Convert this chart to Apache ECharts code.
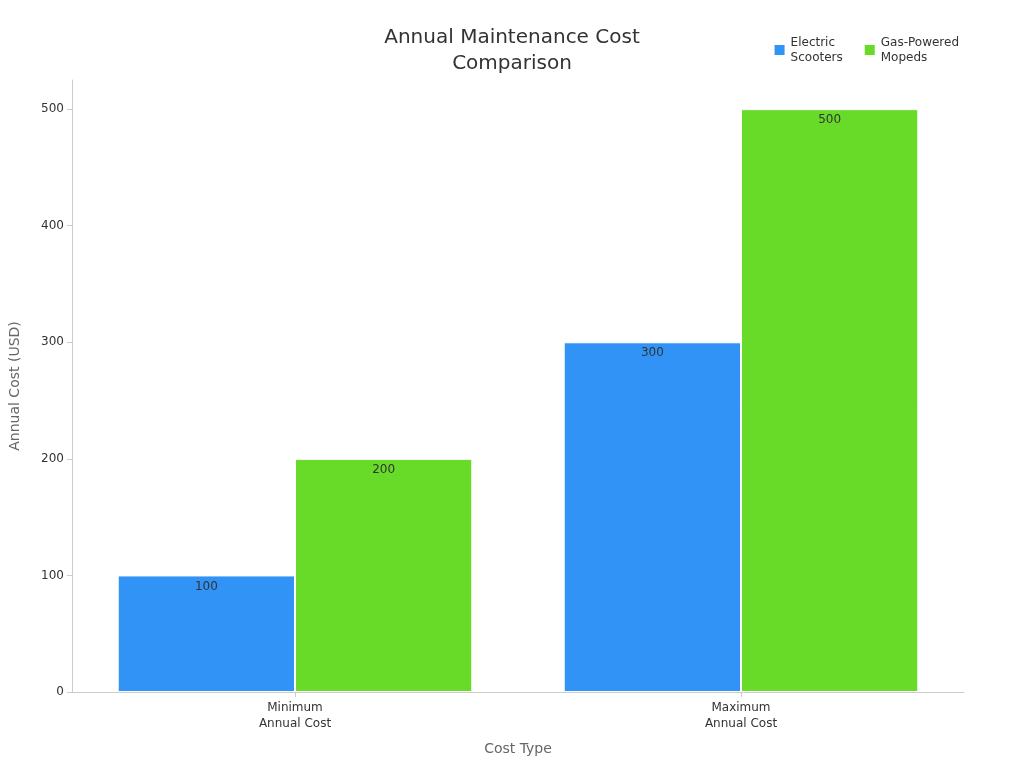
<!DOCTYPE html>
<html><head><meta charset="utf-8">
<script src="https://cdn.jsdelivr.net/npm/echarts@6/dist/echarts.min.js"></script>
<style>html,body{margin:0;padding:0;background:#fff}#c{width:1024px;height:768px}</style>
</head><body><div id="c"></div>
<script>
const categories = ['Minimum\nAnnual Cost', 'Maximum\nAnnual Cost'];
const seriesNames = ['Electric\nScooters', 'Gas-Powered\nMopeds'];
const electric = [100, 300];
const gas = [200, 500];
const colors = ['#3193f6', '#67db27'];
const chart = echarts.init(document.getElementById('c'));
const lbl = {show:true, position:'insideTop', color:'#333', fontSize:12, fontFamily:'DejaVu Sans'};
chart.setOption({
  textStyle:{fontFamily:'DejaVu Sans'},
  title:{text:'Annual Maintenance Cost\nComparison', left:'center', top:20,
    textStyle:{fontSize:20, fontWeight:'normal', color:'#333', lineHeight:26, fontFamily:'DejaVu Sans'}},
  legend:{top:30, right:60, itemWidth:12, itemHeight:12, icon:'rect', itemGap:20,
    textStyle:{fontSize:12, color:'#333', lineHeight:15}},
  grid:{left:68, right:60, top:80, bottom:76},
  xAxis:{type:'category', data:categories, name:'Cost Type', nameLocation:'middle', nameGap:50,
    nameTextStyle:{fontSize:14, color:'#666'},
    axisLine:{lineStyle:{color:'#ccc'}}, axisTick:{show:true, alignWithLabel:true, interval:0, lineStyle:{color:'#ccc'}},
    axisLabel:{color:'#333', fontSize:12, lineHeight:16}},
  yAxis:{type:'value', min:0, max:525, interval:100, name:'Annual Cost (USD)', nameLocation:'middle', nameGap:50,
    nameTextStyle:{fontSize:14, color:'#666'},
    axisLine:{show:true, lineStyle:{color:'#ccc'}}, axisTick:{show:true, lineStyle:{color:'#ccc'}},
    axisLabel:{color:'#333', fontSize:12, showMaxLabel:false}, splitLine:{show:false}},
  series:[
    {name:seriesNames[0], type:'bar', data:electric, barGap:'0%', barCategoryGap:'20.5%',
     itemStyle:{color:colors[0], borderColor:'#fff', borderWidth:1}, label:lbl},
    {name:seriesNames[1], type:'bar', data:gas,
     itemStyle:{color:colors[1], borderColor:'#fff', borderWidth:1}, label:lbl}
  ]
});
</script></body></html>
